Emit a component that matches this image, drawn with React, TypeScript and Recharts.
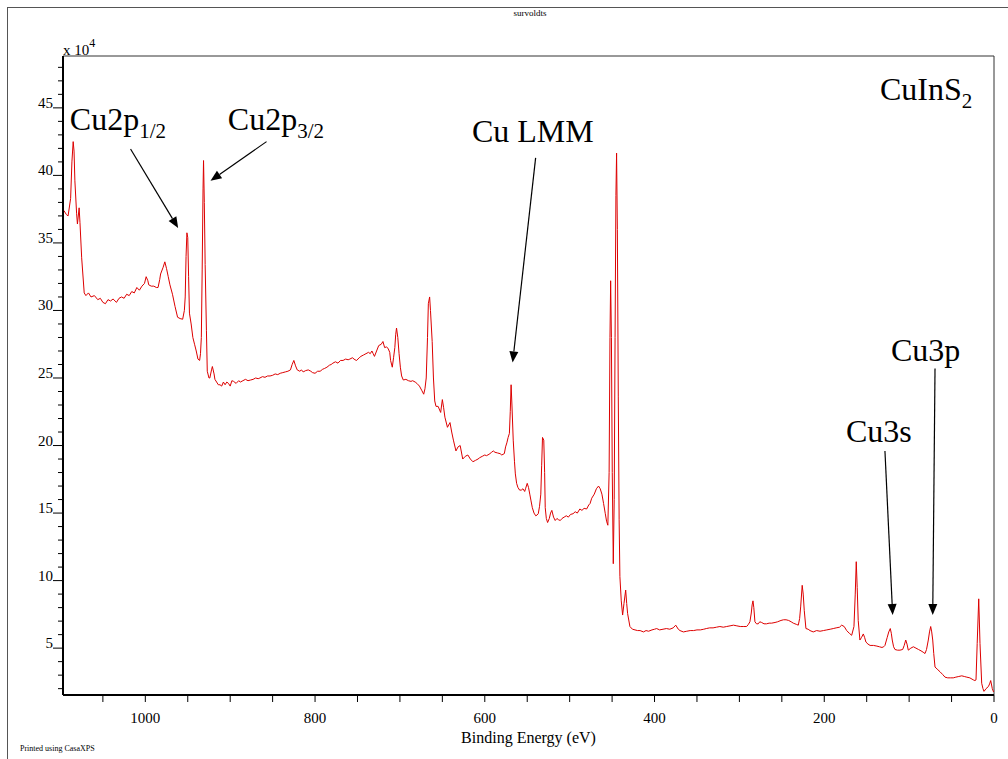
import React from "react";
import {
  ComposedChart,
  Line,
  XAxis,
  YAxis,
  ReferenceLine,
  ReferenceDot,
  ReferenceArea,
} from "recharts";

// [binding energy (eV), counts (x10^4)]
const cu2pRange: [number, number][] = [
  [1096, 37.4], [1093, 37.1], [1091, 37.0], [1088, 38.3], [1086.5, 41.0], [1085, 42.5], [1084, 41.8],
  [1083, 39.6], [1081, 37.2], [1080, 36.4], [1078, 37.6], [1077, 36.5], [1075, 33.9], [1072, 31.3],
  [1070, 31.1], [1067, 31.3], [1064, 31.0], [1060, 31.1], [1056, 30.8], [1053, 30.9], [1050, 30.6],
  [1047, 30.5], [1044, 30.8], [1041, 30.7], [1038, 30.85], [1034, 30.6], [1031, 30.9], [1028, 31.0],
  [1025, 30.9], [1022, 31.2], [1019, 31.1], [1016, 31.4], [1013, 31.3], [1010, 31.7], [1007, 31.5],
  [1004, 31.8], [1001, 32.0], [999, 32.5], [997, 32.2], [996, 31.9], [993, 31.8], [990, 31.8],
  [987, 31.7], [985, 31.7], [983, 32.3], [982, 32.7], [979, 33.2], [977, 33.6], [975, 33.1],
  [973, 32.5], [971, 31.9], [968, 31.2], [965, 30.3], [962, 29.5], [959, 29.4], [956, 29.35],
  [954, 30.0], [953, 31.0], [952, 34.0], [951, 35.75], [950, 35.4], [949, 32.5], [948, 29.8],
  [946, 29.0], [944, 28.0], [942, 27.5], [940, 27.0], [938, 26.4], [936, 26.3], [935, 26.8],
  [934, 28.0], [933, 33.0], [932, 39.0], [931.4, 41.1], [930.5, 38.0], [929.5, 33.4], [928, 28.5],
  [927, 25.5], [925, 25.0], [924, 25.0], [922, 25.6], [921, 25.85], [919, 25.3], [918, 24.9],
  [916, 24.7], [914, 24.5], [912, 24.5], [910, 24.4], [908, 24.7], [906, 24.5], [904, 24.7],
  [902, 24.6], [900, 24.4],
];

const augerRange: [number, number][] = [
  [898, 24.8], [896, 24.75], [893, 24.6], [890, 24.8], [888, 24.7], [885, 24.8], [882, 24.9],
  [879, 24.8], [876, 24.85], [873, 24.9], [870, 25.0], [867, 24.95], [865, 25.0], [862, 25.1],
  [859, 25.05], [856, 25.15], [853, 25.15], [850, 25.2], [847, 25.3], [844, 25.25], [841, 25.35],
  [838, 25.4], [835, 25.45], [832, 25.5], [829, 25.6], [827, 26.0], [825, 26.3], [823, 25.9],
  [821, 25.6], [818, 25.5], [816, 25.6], [814, 25.45], [811, 25.55], [808, 25.6], [805, 25.5],
  [803, 25.4], [800, 25.35], [797, 25.5], [794, 25.5], [791, 25.65], [789, 25.7], [786, 25.8],
  [783, 25.95], [781, 26.0], [779, 26.1], [776, 26.2], [773, 26.1], [770, 26.3], [767, 26.3],
  [764, 26.4], [761, 26.35], [759, 26.4], [756, 26.5], [753, 26.35], [751, 26.3], [748, 26.5],
  [746, 26.6], [743, 26.7], [740, 26.8], [737, 26.9], [735, 26.8], [733, 27.0], [731.5, 26.8],
  [730, 26.6], [727.5, 27.0], [725, 27.4], [722, 27.5], [720, 27.7], [718, 27.25], [716, 27.3],
  [714, 27.2], [712, 26.9], [711, 26.3], [709, 25.8], [707.5, 26.5], [706, 27.25], [705, 28.2],
  [704, 28.7], [702.5, 28.0], [701, 26.8], [699.5, 25.8], [698, 25.15], [696, 24.85], [693, 24.9],
  [690, 24.8], [687, 24.75], [685, 24.8], [682, 24.7], [680, 24.6], [677, 24.4], [674, 24.05],
  [672, 23.8], [670.5, 24.2], [669, 25.0], [667.5, 28.0], [666.5, 30.5], [665, 31.0], [664, 30.0],
  [662, 27.7], [660.5, 25.0],
];

const in3dRange: [number, number][] = [
  [659, 23.3], [657.5, 22.9], [655, 22.9], [652, 22.45], [650, 23.4], [648.5, 22.8], [647, 22.1],
  [644, 21.35], [641, 21.7], [639, 21.0], [637, 20.4], [634, 19.6], [631.5, 19.9], [629, 20.0],
  [626, 19.0], [623, 19.2], [620, 19.3], [617, 19.0], [614, 18.8], [611, 18.9], [608, 19.0],
  [606, 19.1], [603, 19.2], [600, 19.3], [598, 19.25], [595, 19.35], [592, 19.5], [590, 19.6],
  [588, 19.5], [585, 19.45], [582, 19.4], [580, 19.3], [577, 19.4], [575.5, 19.9], [574, 20.2],
  [572.5, 20.6], [571, 20.9], [570, 22.5], [569, 24.5], [568, 23.0], [566.5, 20.4], [565, 18.8],
  [564, 17.9], [562.5, 17.2], [561, 16.9], [559, 16.7], [557, 16.7], [555, 16.8], [553, 16.6],
  [552, 16.8], [550, 17.2], [548.5, 16.9], [547, 16.4], [545.5, 15.9], [544, 15.4], [542, 15.0],
  [540, 14.8], [538.5, 14.85], [537, 14.95], [535.5, 15.5], [534, 16.4], [533, 18.5], [532, 20.6],
  [530.5, 20.4], [529.5, 18.0], [528.8, 15.4], [527.5, 14.6], [526, 14.3], [524, 14.6],
  [522.5, 15.0], [521, 15.2], [519, 14.7], [517, 14.45], [515, 14.6], [513, 14.5], [511, 14.45],
  [509, 14.6], [506.5, 14.7], [504, 14.8], [501.5, 14.7], [499, 14.9], [496, 14.95], [493.5, 15.1],
  [491, 15.0], [488, 15.3], [485.5, 15.2], [483, 15.35], [480, 15.3], [477.5, 15.6], [476, 15.7],
  [474, 16.1], [471, 16.4], [468.5, 16.8], [466, 17.0], [464, 16.8], [462, 16.4], [460, 15.7],
  [458, 14.95], [456.5, 14.4], [455, 14.1], [453.5, 18.0], [452.5, 28.0], [451.7, 32.2],
  [450.8, 28.0], [449.8, 18.0], [448.6, 11.25], [447.5, 16.0], [446.5, 28.0], [445.5, 38.5],
  [444.7, 41.65], [443.8, 36.0], [442.7, 23.6], [441.7, 14.5], [440.8, 10.3], [439.2, 8.5],
  [437.6, 7.45], [436, 8.3], [434, 9.3], [432.8, 8.3], [431.7, 7.55],
];

const lowRange: [number, number][] = [
  [429, 6.6], [426, 6.4], [423, 6.35], [420, 6.3], [417, 6.3], [413, 6.2], [410, 6.3], [407, 6.25],
  [403, 6.35], [400, 6.4], [397.5, 6.45], [394, 6.35], [390, 6.4], [386, 6.45], [382, 6.4],
  [378, 6.5], [375, 6.7], [372, 6.4], [370, 6.3], [366, 6.2], [362, 6.25], [358, 6.3], [354, 6.3],
  [350, 6.35], [346, 6.35], [342, 6.4], [339, 6.45], [335, 6.5], [331, 6.5], [327, 6.55],
  [323, 6.6], [319, 6.55], [315, 6.6], [311, 6.65], [307, 6.7], [303, 6.65], [299, 6.6],
  [295.5, 6.6], [291.5, 6.6], [289.5, 6.75], [287.6, 6.95], [286, 7.6], [285, 8.2], [284, 8.5],
  [283, 8.0], [281.7, 6.95], [279.8, 6.8], [277.8, 6.8], [276, 6.95], [273.8, 6.9], [271, 6.8],
  [268, 6.8], [265, 6.85], [262, 6.85], [258, 6.9], [255, 6.95], [251, 7.05], [248, 7.1],
  [245, 7.1], [242, 7.05], [239, 6.95], [236.5, 6.85], [234.5, 6.8], [232.5, 6.75], [230.6, 6.7],
  [229, 7.2], [227.8, 8.05], [226, 9.65], [224.8, 9.0], [223.6, 7.8], [221.6, 6.45], [219, 6.4],
  [216.8, 6.3], [213, 6.2], [209, 6.3], [205, 6.25], [201, 6.3], [197, 6.35], [193, 6.4],
  [189.4, 6.45], [186, 6.5], [182, 6.55], [179.5, 6.7], [176.5, 6.6], [173.6, 6.3], [170.5, 6.1],
  [167.7, 5.95], [165, 6.6], [163.5, 9.0], [162.3, 11.4], [161.2, 9.5], [160, 7.05], [158, 5.6],
  [156, 5.8], [154, 6.05], [152.5, 5.8], [150.9, 5.45], [148.5, 5.3], [146, 5.2], [142, 5.2],
  [138, 5.15], [135, 5.1], [132, 5.05], [130, 5.1], [128.5, 5.2], [125.8, 5.8], [124, 6.2],
  [122.2, 6.45], [121, 6.1], [119.9, 5.6], [118.3, 5.1], [116.7, 4.9], [113.8, 4.85],
  [110.8, 4.85], [107.6, 4.9], [105.8, 5.2], [104, 5.6], [102.5, 5.3], [101, 4.85], [98, 5.0],
  [95, 5.1], [92, 5.0], [89, 4.9], [86, 4.8], [83.5, 4.7], [81.3, 4.6], [79.5, 4.9], [77.4, 5.6],
  [76, 6.2], [74.6, 6.6], [73.4, 6.2], [72.2, 5.6], [71, 4.6], [69.5, 3.6], [67, 3.45],
  [63.6, 3.25], [60.5, 3.05], [57.7, 2.85], [54.5, 2.8], [51, 2.8], [48, 2.8], [45, 2.85],
  [41.5, 2.9], [38, 2.95], [35, 2.9], [32, 2.85], [28.5, 2.8], [24.4, 2.65], [22.5, 2.6],
  [21.2, 2.65], [19.8, 5.35], [18, 8.65], [16.5, 5.35], [14.5, 2.4], [13, 2.0], [11.8, 1.8],
  [10.5, 1.9], [9.4, 2.0], [6.7, 2.15], [5.2, 2.35], [3.9, 2.6], [2, 2.0], [0.5, 1.75],
];

const xTicks = [0, 50, 100, 150, 200, 250, 300, 350, 400, 450, 500, 550, 600, 650, 700, 750, 800, 850, 900, 950, 1000, 1050];
const xLabelTicks = [0, 200, 400, 600, 800, 1000];
const yTicks = [2, 3, 4, 5, 6, 7, 8, 9, 10, 11, 12, 13, 14, 15, 16, 17, 18, 19, 20, 21, 22, 23, 24, 25, 26, 27, 28, 29, 30, 31, 32, 33, 34, 35, 36, 37, 38, 39, 40, 41, 42, 43, 44, 45, 46, 47, 48];
const yLabelTicks = [5, 10, 15, 20, 25, 30, 35, 40, 45];

// peak labels: text, subscript, [eV, counts] of the text's left baseline
const peakLabels = [
  { text: "Cu2p", sub: "1/2", at: [1089, 43.33] },
  { text: "Cu2p", sub: "3/2", at: [902.8, 43.33] },
  { text: "Cu LMM", sub: "", at: [615.2, 42.5] },
  { text: "Cu3s", sub: "", at: [174.4, 20.24] },
  { text: "Cu3p", sub: "", at: [121.4, 26.27] },
  { text: "CuInS", sub: "2", at: [134.4, 45.6] },
];

const peakArrows = [
  { from: [1017.4, 41.95], to: [961.3, 36.1] },
  { from: [857.2, 42.5], to: [923.2, 39.6] },
  { from: [540.1, 41.3], to: [567.2, 26.15] },
  { from: [128.5, 19.6], to: [119.4, 7.45] },
  { from: [69.5, 25.7], to: [72.2, 7.45] },
];

const spectrum = [...cu2pRange, ...augerRange, ...in3dRange, ...lowRange].map(([be, cps]) => ({ be, cps }));

const SERIF = "'Liberation Serif', 'Times New Roman', serif";

const XTick = (props: any) => {
  const { x, y, payload } = props;
  const v = payload.value;
  return (
    <g>
      <line x1={x} y1={y} x2={x} y2={y + 7} stroke="#000" strokeWidth={1} />
      {xLabelTicks.includes(v) && (
        <text x={x} y={y + 28} textAnchor="middle" fontFamily={SERIF} fontSize={15} fill="#000">
          {v}
        </text>
      )}
    </g>
  );
};

const YTick = (props: any) => {
  const { x, y, payload } = props;
  const v = payload.value;
  const major = yLabelTicks.includes(v);
  return (
    <g>
      <line x1={x - (major ? 10 : 5)} y1={y} x2={x} y2={y} stroke="#000" strokeWidth={1} />
      {major && (
        <text x={x - 10} y={y} textAnchor="end" fontFamily={SERIF} fontSize={15} fill="#000">
          {v}
        </text>
      )}
    </g>
  );
};

const Arrow = (p: any) => {
  const { x1, y1, x2, y2 } = p;
  const ang = Math.atan2(y2 - y1, x2 - x1);
  const len = 11;
  const half = 4.5;
  const bx = x2 - len * Math.cos(ang);
  const by = y2 - len * Math.sin(ang);
  const px = -Math.sin(ang) * half;
  const py = Math.cos(ang) * half;
  return (
    <g>
      <line x1={x1} y1={y1} x2={bx} y2={by} stroke="#000" strokeWidth={1.2} />
      <polygon points={`${x2},${y2} ${bx + px},${by + py} ${bx - px},${by - py}`} fill="#000" />
    </g>
  );
};

const labelShape = (text: string, sub: string) => (p: any) => (
  <text x={p.cx} y={p.cy} fontFamily={SERIF} fontSize={32} fill="#000">
    {text}
    {sub && (
      <tspan fontSize={21} dy={8}>
        {sub}
      </tspan>
    )}
  </text>
);

const unitShape = (p: any) => (
  <text x={p.cx} y={p.cy - 1} fontFamily={SERIF} fontSize={15} fill="#000">
    x 10
    <tspan fontSize={12} dy={-8}>
      4
    </tspan>
  </text>
);

const App = () => {
  return (
    <div style={{ position: "absolute", left: 0, top: 0, width: 1008, height: 759, background: "#fff", overflow: "hidden" }}>
      <div
        style={{
          position: "absolute",
          left: 7,
          top: 7,
          width: 1010,
          height: 760,
          borderLeft: "1px solid #555",
          borderTop: "1px solid #555",
        }}
      />
      <div style={{ position: "absolute", left: 0, width: 1060, top: 8, textAlign: "center", fontFamily: SERIF, fontSize: 9 }}>
        survoldts
      </div>
      <div style={{ position: "absolute", left: 20, top: 744, fontFamily: SERIF, fontSize: 8 }}>
        Printed using CasaXPS
      </div>
      <div style={{ position: "absolute", left: 0, top: 0 }}>
        <ComposedChart
          width={1008}
          height={759}
          data={spectrum}
          margin={{ top: 56, right: 14, bottom: 12, left: 23 }}
        >
          <ReferenceArea
            x1={0}
            x2={1097}
            y1={1.53}
            y2={48.84}
            fill="none"
            stroke="#333"
            strokeWidth={1}
            ifOverflow="visible"
          />
          <XAxis
            dataKey="be"
            type="number"
            domain={[0, 1097]}
            allowDataOverflow
            reversed
            ticks={xTicks}
            interval={0}
            tickSize={0}
            tickMargin={0}
            tickLine={false}
            tick={<XTick />}
            height={52}
            axisLine={{ stroke: "#000", strokeWidth: 2 }}
            label={{
              value: "Binding Energy (eV)",
              position: "insideBottom",
              offset: 4,
              style: { fontFamily: SERIF, fontSize: 16, fill: "#000" },
            }}
          />
          <YAxis
            type="number"
            domain={[1.53, 48.84]}
            allowDataOverflow
            ticks={yTicks}
            interval={0}
            tickSize={0}
            tickMargin={0}
            tickLine={false}
            tick={<YTick />}
            width={40}
            axisLine={{ stroke: "#000", strokeWidth: 2 }}
          />
          <Line
            dataKey="cps"
            type="linear"
            stroke="#dd0000"
            strokeWidth={1}
            dot={false}
            activeDot={false}
            isAnimationActive={false}
          />
          {peakArrows.map((a, i) => (
            <ReferenceLine
              key={`arrow-${i}`}
              segment={[
                { x: a.from[0], y: a.from[1] },
                { x: a.to[0], y: a.to[1] },
              ]}
              ifOverflow="visible"
              shape={(p: any) => <Arrow {...p} />}
            />
          ))}
          {peakLabels.map((l, i) => (
            <ReferenceDot
              key={`label-${i}`}
              x={l.at[0]}
              y={l.at[1]}
              r={0}
              ifOverflow="visible"
              shape={labelShape(l.text, l.sub)}
            />
          ))}
          <ReferenceDot x={1097} y={48.84} r={0} ifOverflow="visible" shape={unitShape} />
        </ComposedChart>
      </div>
    </div>
  );
};

export default App;
